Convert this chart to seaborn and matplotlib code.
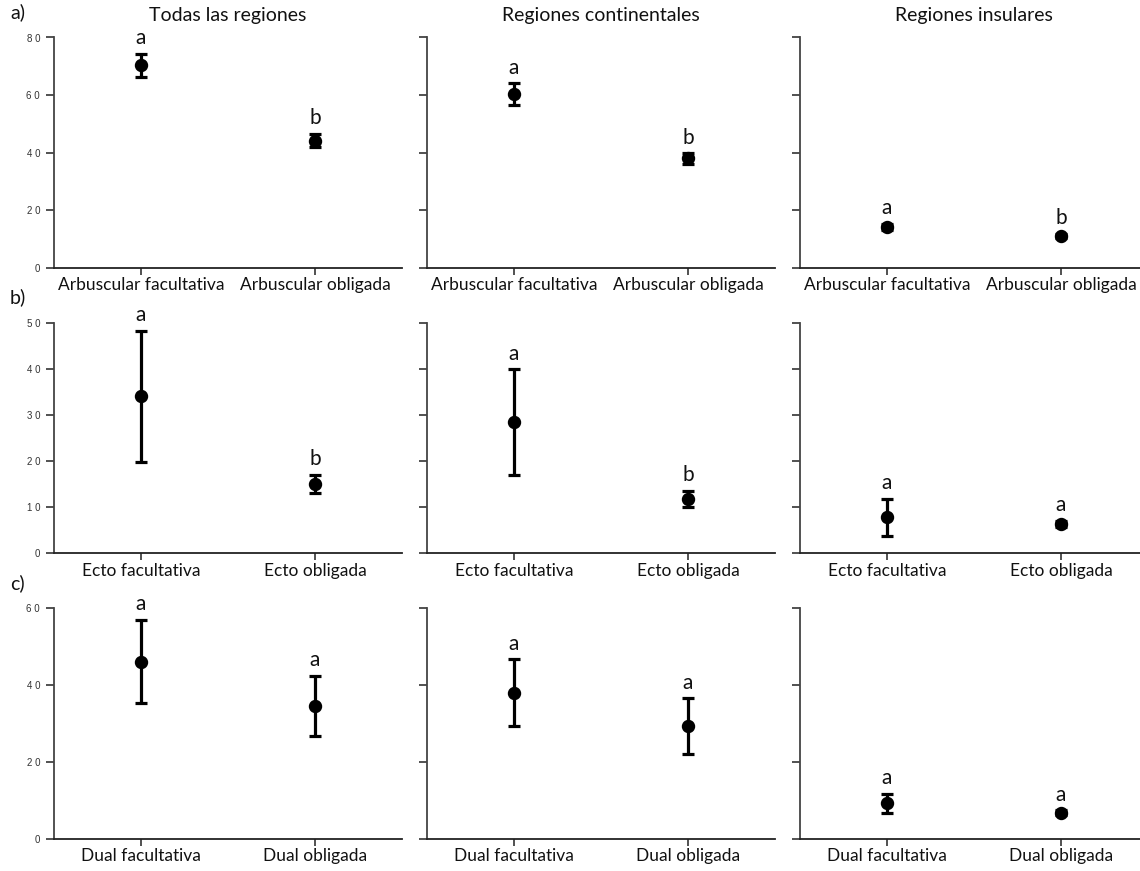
import matplotlib
matplotlib.use("Agg")
import matplotlib.pyplot as plt
import seaborn as sns
import pandas as pd

# Column headings (region groups) and row panel tags
regions = ["Todas las regiones", "Regiones continentales", "Regiones insulares"]
panel_tags = ["a)", "b)", "c)"]

# Mycorrhizal categories per row
cats_a = ["Arbuscular facultativa", "Arbuscular obligada"]
cats_b = ["Ecto facultativa", "Ecto obligada"]
cats_c = ["Dual facultativa", "Dual obligada"]

# Means per region (columns) for each category pair
means_a = [[70.3, 44.2], [60.4, 38.0], [14.2, 11.0]]
means_b = [[34.0, 15.0], [28.4, 11.8], [7.8, 6.35]]
means_c = [[46.0, 34.5], [37.9, 29.3], [9.2, 6.75]]

# Error half-widths
err_a = [[4.05, 2.3], [3.75, 1.8], [1.0, 0.8]]
err_b = [[14.2, 2.0], [11.5, 1.7], [4.0, 0.7]]
err_c = [[10.8, 7.8], [8.7, 7.2], [2.5, 0.6]]

# Significance letters
letters_a = [["a", "b"], ["a", "b"], ["a", "b"]]
letters_b = [["a", "b"], ["a", "b"], ["a", "a"]]
letters_c = [["a", "a"], ["a", "a"], ["a", "a"]]

# Y axis ranges per row
ymax = [80, 50, 60]
ystep = [20, 10, 20]

rows = [
    (cats_a, means_a, err_a, letters_a),
    (cats_b, means_b, err_b, letters_b),
    (cats_c, means_c, err_c, letters_c),
]

sns.set_theme(style="white")
plt.rcParams["font.family"] = ["Lato", "DejaVu Sans"]

W, H = 1140, 871
fig = plt.figure(figsize=(W / 100, H / 100), dpi=100)

col_left = [54, 427, 800]
ax_w = 348
row_top = [37.5, 322.7, 607.7]
row_bot = [267.7, 553.3, 838.7]

spine_col = "#333333"
tick_col = "#333333"

for r, (cats, means, errs, letters) in enumerate(rows):
    for c in range(3):
        left = col_left[c] / W
        bottom = 1 - row_bot[r] / H
        height = (row_bot[r] - row_top[r]) / H
        ax = fig.add_axes([left, bottom, ax_w / W, height])

        df = pd.DataFrame({"cat": cats, "mean": means[c]})
        ax.errorbar(x=[0, 1], y=means[c], yerr=errs[c], fmt="none",
                    ecolor="black", elinewidth=2.3, capsize=4.4,
                    capthick=2.3, zorder=2)
        sns.pointplot(data=df, x="cat", y="mean", order=cats, color="black",
                      linestyle="none", errorbar=None, markers="o",
                      markersize=7.6, ax=ax, zorder=3)

        for i in range(2):
            top = means[c][i] + errs[c][i]
            ax.annotate(letters[c][i], xy=(i, top), xytext=(0, 4),
                        textcoords="offset points", ha="center", va="bottom",
                        fontsize=15, color="#111111")

        ax.set_xlim(-0.5, 1.5)
        ax.set_ylim(0, ymax[r])
        ticks = list(range(0, ymax[r] + 1, ystep[r]))
        ax.set_yticks(ticks)
        if c == 0:
            ax.set_yticklabels([" ".join(str(t)) for t in ticks],
                               fontsize=7, color=tick_col,
                               family=["Liberation Sans", "DejaVu Sans"])
        else:
            ax.set_yticklabels([])
        ax.set_xlabel("")
        ax.set_ylabel("")
        ax.tick_params(axis="x", labelsize=12.5, colors=spine_col,
                       labelcolor="#111111", length=5, width=1.2,
                       direction="out", bottom=True, pad=2)
        ax.tick_params(axis="y", length=6, width=1.2, colors=spine_col,
                       direction="out", left=True, pad=4)
        for side in ["top", "right"]:
            ax.spines[side].set_visible(False)
        ax.spines["left"].set_color("#444444")
        ax.spines["bottom"].set_color("#222222")
        ax.spines["left"].set_linewidth(1.3)
        ax.spines["bottom"].set_linewidth(1.3)
        ax.grid(False)

        if r == 0:
            ax.set_title(regions[c], fontsize=14, color="#111111", pad=12)

for r, tag in enumerate(panel_tags):
    y = [12, 297, 583][r]
    fig.text(10 / W, 1 - y / H, tag, fontsize=14, color="#111111",
             ha="left", va="center")

fig.savefig("out.png", dpi=100, facecolor="white")
